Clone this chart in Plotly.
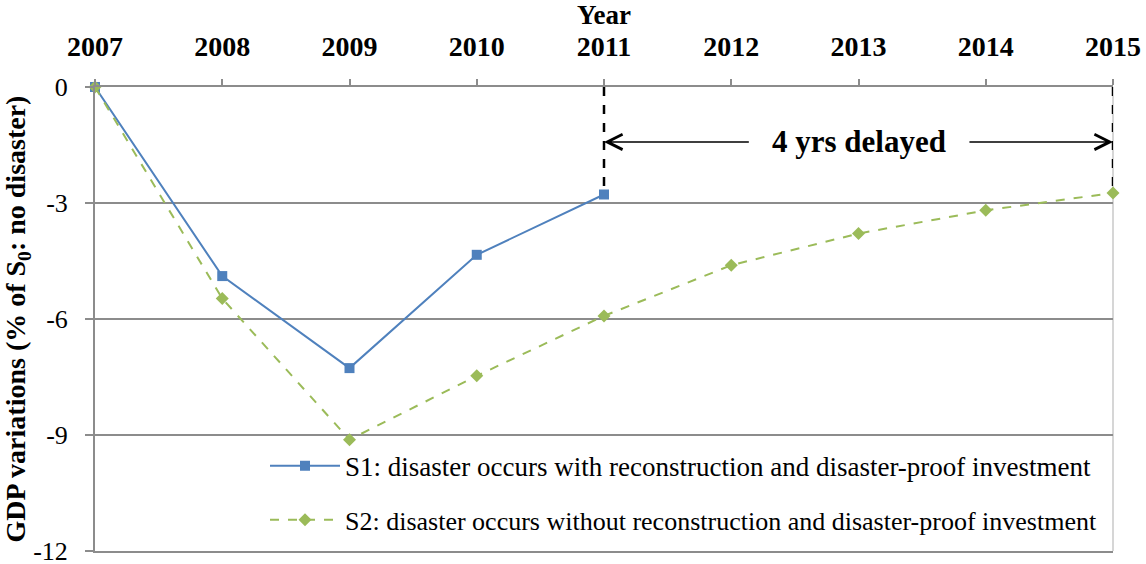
import plotly.graph_objects as go

years = [2007, 2008, 2009, 2010, 2011, 2012, 2013, 2014, 2015]
s1_years = [2007, 2008, 2009, 2010, 2011]
s1_values = [0, -4.89, -7.27, -4.34, -2.78]
s2_values = [0, -5.47, -9.12, -7.47, -5.92, -4.61, -3.79, -3.19, -2.74]
y_ticks = [0, -3, -6, -9, -12]
y_tick_labels = ["0", "-3", "-6", "-9", "-12"]
s1_name = "S1: disaster occurs with reconstruction and disaster-proof investment"
s2_name = "S2: disaster occurs without reconstruction and disaster-proof investment"
delay_label = "4 yrs delayed"

FONT = "Liberation Serif"
BLUE = "#4F81BD"
GREEN = "#9BBB59"
GRID = "#8c8c8c"

fig = go.Figure()
fig.add_trace(go.Scatter(
    x=s1_years, y=s1_values, mode="lines+markers", name=s1_name,
    line=dict(color=BLUE, width=2),
    marker=dict(symbol="square", size=10, color=BLUE),
    cliponaxis=False, legend="legend",
))
fig.add_trace(go.Scatter(
    x=years, y=s2_values, mode="lines+markers", name=s2_name,
    line=dict(color=GREEN, width=2, dash="dash"),
    marker=dict(symbol="diamond", size=10, color=GREEN),
    cliponaxis=False, legend="legend2",
))

# light right border of the plot area
fig.add_shape(type="line", xref="paper", yref="paper", x0=1, x1=1, y0=0, y1=1,
              line=dict(color="#c8c8c8", width=1.5), layer="below")

# vertical dashed lines marking the delay
for xv, yv in [(s1_years[-1], s1_values[-1]), (years[-1], s2_values[-1])]:
    fig.add_shape(type="line", x0=xv, x1=xv, y0=0, y1=yv, xref="x", yref="y",
                  line=dict(color="black", width=2.5, dash="dash"), layer="below")

y_arrow = -1.42
fig.add_annotation(x=s1_years[-1], y=y_arrow, ax=2012.15, ay=y_arrow,
                   xref="x", yref="y", axref="x", ayref="y", text="",
                   showarrow=True, arrowhead=5, arrowsize=2, arrowwidth=1.5,
                   arrowcolor="black")
fig.add_annotation(x=years[-1], y=y_arrow, ax=2013.86, ay=y_arrow,
                   xref="x", yref="y", axref="x", ayref="y", text="",
                   showarrow=True, arrowhead=5, arrowsize=2, arrowwidth=1.5,
                   arrowcolor="black")
fig.add_annotation(x=2013.0, y=y_arrow, xref="x", yref="y", text="<b>" + delay_label + "</b>",
                   showarrow=False, font=dict(family=FONT, size=31, color="black"))

fig.update_layout(
    width=1146, height=564,
    margin=dict(l=95, r=33, t=87, b=13, autoexpand=False),
    paper_bgcolor="white", plot_bgcolor="white",
    font=dict(family=FONT, color="black"),
    xaxis=dict(
        side="top", range=[2007, 2015], tickvals=years,
        ticktext=["<b>%d</b>" % y for y in years],
        tickfont=dict(family=FONT, size=28, color="black"),
        ticks="outside", ticklen=6, tickcolor=GRID, tickwidth=1.5,
        ticklabelstandoff=12, ticklabeloverflow="allow",
        showline=True, linecolor=GRID, linewidth=2, mirror=True,
        showgrid=False, zeroline=False, automargin=False,
        title=dict(text="<b>Year</b>", font=dict(family=FONT, size=27), standoff=3),
    ),
    yaxis=dict(
        range=[-12, 0], tickvals=y_ticks, ticktext=y_tick_labels,
        tickfont=dict(family=FONT, size=26, color="black"),
        ticks="outside", ticklen=8, tickcolor=GRID, tickwidth=1.5,
        ticklabelstandoff=12, ticklabeloverflow="allow",
        showline=True, linecolor=GRID, linewidth=2,
        showgrid=True, gridcolor=GRID, gridwidth=2, zeroline=False, automargin=False,
        title=dict(text="<b>GDP variations (% of S<sub>0</sub>: no disaster)</b>",
                   font=dict(family=FONT, size=28), standoff=0),
    ),
    legend=dict(x=0.167, y=0.183, xanchor="left", yanchor="middle",
                bgcolor="rgba(0,0,0,0)", font=dict(family=FONT, size=27),
                itemwidth=70),
    legend2=dict(x=0.167, y=0.067, xanchor="left", yanchor="middle",
                 bgcolor="rgba(0,0,0,0)", font=dict(family=FONT, size=26),
                 itemwidth=70),
    showlegend=True,
)

fig.write_html("out.html", config={"displayModeBar": False},
               post_script="document.body.style.margin='0';")
